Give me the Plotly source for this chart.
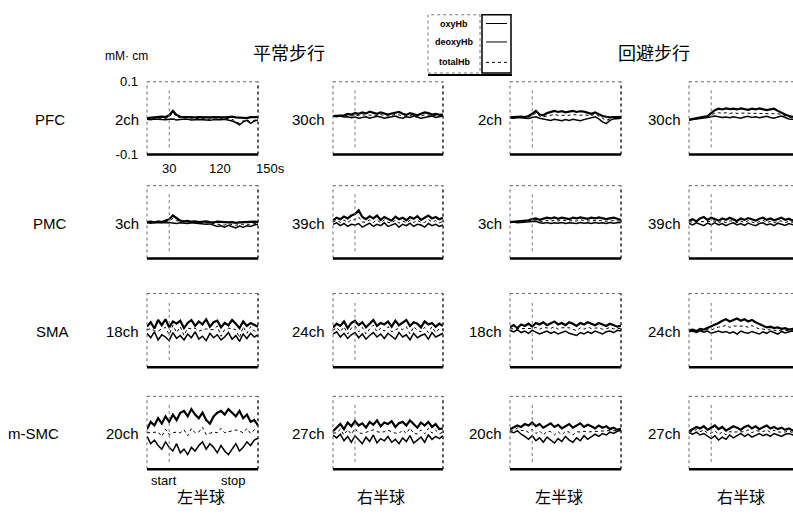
import plotly.graph_objects as go

W, H = 793, 517

# time axis (s)
t = [0, 5, 10, 15, 20, 25, 30, 35, 40, 45, 50, 55, 60, 65, 70, 75,
     80, 85, 90, 95, 100, 105, 110, 115, 120, 125, 130, 135, 140, 145, 150]

row_names = ["PFC", "PMC", "SMA", "m-SMC"]
channels = [["2ch", "30ch", "2ch", "30ch"],
            ["3ch", "39ch", "3ch", "39ch"],
            ["18ch", "24ch", "18ch", "24ch"],
            ["20ch", "27ch", "20ch", "27ch"]]
condition_titles = ["平常步行", "回避步行"]
hemisphere_labels = ["左半球", "右半球", "左半球", "右半球"]
series_names = ["oxyHb", "deoxyHb", "totalHb"]
x_tick_vals = [30, 120, 150]
x_tick_text = ["30", "120", "150s"]
x_tick_shift = [0, -16, 12]
y_tick_vals = [-0.1, 0.1]
y_tick_text = ["-0.1", "0.1"]

# values in 10^-3 mM·cm
oxy_r1c1 = [0,1,3,2,4,3,8,20,9,4,3,4,3,2,3,2,1,2,3,2,1,2,3,4,2,1,2,0,3,2,3]
deoxy_r1c1 = [-3,-4,-2,-3,-2,-4,-3,-2,-5,-3,-2,-3,-5,-4,-3,-4,-5,-6,-4,-5,-4,-3,-5,-8,-12,-18,-10,-6,-14,-8,-5]
total_r1c1 = [-1,-2,1,-1,1,-1,3,16,4,1,1,1,-1,-1,0,-1,-3,-2,-1,-2,-2,-1,-1,-3,-8,-15,-7,-5,-10,-5,-2]

oxy_r1c2 = [6,7,9,8,12,10,14,12,16,13,18,15,12,16,14,10,13,15,17,12,9,14,12,8,12,16,14,10,12,9,10]
deoxy_r1c2 = [5,4,6,3,4,1,3,0,2,4,0,2,5,3,0,2,4,6,2,0,4,2,6,4,0,2,4,6,2,4,6]
total_r1c2 = [6,5,8,6,8,6,8,7,9,8,9,8,8,10,7,6,8,10,9,6,6,8,9,6,6,9,9,8,7,6,8]

oxy_r1c3 = [2,3,2,4,3,6,12,20,10,8,14,18,20,17,19,16,18,20,17,19,18,15,12,16,10,6,4,2,3,2,3]
deoxy_r1c3 = [1,0,2,1,0,-1,2,4,0,-2,-4,-6,-3,-5,-7,-4,-6,-3,-5,-7,-4,-2,0,4,-2,-10,-15,-6,-2,-1,0]
total_r1c3 = [2,2,2,3,2,3,8,14,6,4,6,8,10,8,8,7,8,10,8,8,9,8,7,12,6,-2,-6,-2,1,1,2]

oxy_r1c4 = [-4,-2,0,2,4,6,14,22,26,24,27,25,26,24,27,25,23,26,24,27,25,22,24,26,20,14,10,6,4,2,0]
deoxy_r1c4 = [-5,-4,-3,-2,0,2,4,6,4,2,3,1,4,2,0,3,5,2,4,1,3,5,2,0,3,6,2,-2,-3,-2,-1]
total_r1c4 = [-5,-3,-2,0,2,4,9,14,15,13,15,13,15,13,14,14,14,14,14,14,14,13,13,13,12,10,6,2,0,0,-1]

oxy_r2c1 = [0,1,-1,2,0,3,8,18,10,4,2,3,1,2,0,1,2,0,-1,1,0,-2,-1,0,-2,-1,0,-1,0,1,0]
deoxy_r2c1 = [-2,-3,-1,-2,-3,-2,-1,-3,-4,-2,-3,-4,-2,-3,-5,-4,-6,-5,-8,-12,-10,-14,-9,-13,-16,-11,-14,-10,-12,-8,-6]
total_r2c1 = [-1,-1,-1,0,-1,1,4,10,4,1,0,0,-1,-1,-3,-2,-2,-3,-5,-6,-5,-8,-5,-7,-9,-6,-7,-6,-6,-4,-3]

oxy_r2c2 = [5,12,8,15,10,18,22,32,14,8,16,10,18,6,14,10,4,15,8,12,5,14,9,16,6,12,18,10,14,8,12]
deoxy_r2c2 = [-6,-2,-10,-4,-12,-6,-8,-4,-14,-8,-3,-12,-6,-10,-2,-12,-8,-4,-14,-6,-10,-3,-12,-6,-8,-14,-4,-10,-6,-12,-8]
total_r2c2 = [0,5,-1,6,-1,6,7,14,0,0,6,-1,6,-2,6,-1,-2,5,-3,3,-2,5,-1,5,-1,-1,7,0,4,-2,2]

oxy_r2c3 = [0,1,0,2,3,5,8,10,6,8,12,10,13,9,12,10,8,12,10,13,11,9,12,10,13,11,8,10,12,9,6]
deoxy_r2c3 = [-1,0,-2,-1,0,-1,0,2,-2,-3,-1,-4,-2,-3,-1,-4,-2,-3,-4,-1,-3,-2,-4,-1,-3,-2,-4,-1,-3,-2,-1]
total_r2c3 = [-1,0,-1,0,1,2,4,6,2,2,5,3,5,3,5,3,3,4,3,6,4,3,4,4,5,4,2,4,4,3,2]

oxy_r2c4 = [4,8,2,10,14,6,12,8,4,10,6,12,8,3,10,6,11,7,4,9,12,6,10,5,8,12,6,9,4,8,6]
deoxy_r2c4 = [-4,-8,-2,-6,-10,-3,-7,-2,-8,-4,-10,-5,-2,-8,-4,-9,-3,-7,-10,-4,-2,-8,-5,-10,-3,-6,-9,-4,-7,-3,-5]
total_r2c4 = [0,0,0,2,2,1,2,3,-2,3,-2,3,3,-2,3,-1,4,0,-3,2,5,-1,2,-2,2,3,-1,2,-1,2,0]

oxy_r3c1 = [10,22,5,28,14,30,8,24,18,26,6,20,28,12,24,16,30,10,22,26,8,20,14,28,18,6,24,12,20,16,10]
deoxy_r3c1 = [-8,-20,-4,-26,-12,-18,-28,-6,-22,-14,-26,-10,-20,-4,-24,-16,-28,-8,-20,-12,-26,-18,-6,-24,-14,-30,-10,-22,-8,-18,-12]
total_r3c1 = [2,4,-1,-2,4,8,-12,14,-6,10,-14,6,4,6,-2,0,4,2,2,12,-16,2,6,4,2,-20,10,-8,10,-2,-2]

oxy_r3c2 = [8,18,12,24,6,20,26,14,22,8,18,28,12,20,16,24,10,26,14,20,28,12,22,18,8,24,16,20,10,18,12]
deoxy_r3c2 = [-10,-4,-18,-8,-22,-12,-6,-20,-10,-24,-14,-6,-18,-10,-22,-8,-16,-24,-6,-18,-12,-26,-8,-20,-14,-10,-24,-6,-18,-12,-8]
total_r3c2 = [0,8,-4,10,-10,6,12,-4,8,-10,4,14,-4,6,-2,10,-4,2,6,2,10,-10,10,0,-4,8,-6,10,-6,4,2]

oxy_r3c3 = [8,14,6,16,12,18,10,20,16,22,14,18,24,16,20,14,22,18,12,20,16,22,18,14,20,16,12,18,14,10,12]
deoxy_r3c3 = [0,-4,2,-6,-2,-8,0,-4,-10,-6,-2,-8,-4,-10,-6,-2,-8,-12,-14,-6,-10,-4,-8,-2,-6,-10,-4,-2,-6,0,-2]
total_r3c3 = [4,5,4,5,5,5,5,8,3,8,6,5,10,3,7,6,7,3,-1,7,3,9,5,6,7,3,4,8,4,5,5]

oxy_r3c4 = [0,2,-2,4,2,6,10,14,20,26,30,24,28,32,26,30,24,28,22,18,12,8,10,6,8,4,6,2,4,0,2]
deoxy_r3c4 = [-4,-2,-6,-1,-5,-2,-8,-4,-2,-6,-3,-8,-4,-10,-2,-6,-8,-3,-6,-10,-4,-8,-2,-6,-10,-3,-7,-4,-2,-6,-3]
total_r3c4 = [-2,0,-4,2,-2,2,1,5,9,10,14,8,12,11,12,12,8,13,8,4,4,0,4,0,-1,1,0,-1,1,-3,0]

oxy_r4c1 = [10,30,20,40,25,45,30,50,35,55,60,45,65,50,40,55,35,25,45,55,60,50,65,55,45,60,40,50,30,35,20]
deoxy_r4c1 = [-10,-30,-20,-35,-45,-25,-40,-50,-30,-55,-45,-60,-40,-50,-35,-25,-45,-30,-40,-55,-35,-50,-60,-45,-30,-50,-40,-25,-35,-20,-15]
total_r4c1 = [0,0,0,2,-10,10,-5,0,2,0,8,-8,12,0,2,15,-5,-2,2,0,12,0,2,5,8,5,0,12,-2,8,2]

oxy_r4c2 = [4,14,24,10,28,18,32,20,26,14,30,22,34,18,28,24,32,16,26,30,20,34,24,14,28,20,30,16,24,10,12]
deoxy_r4c2 = [-6,-14,-4,-22,-10,-26,-8,-20,-30,-12,-24,-6,-28,-16,-22,-10,-26,-18,-30,-14,-24,-8,-28,-20,-12,-26,-6,-18,-10,-16,-8]
total_r4c2 = [-1,0,10,-6,9,-4,12,0,-2,1,3,8,3,1,3,7,3,-1,-2,8,-2,13,-2,-3,8,-3,12,-1,7,-3,2]

oxy_r4c3 = [10,14,20,16,24,20,28,18,24,14,20,26,16,22,12,18,24,14,20,26,16,22,18,12,20,14,18,10,14,8,12]
deoxy_r4c3 = [4,0,6,-4,-10,-18,-8,-22,-14,-26,-12,-20,-28,-16,-24,-10,-20,-26,-14,-22,-8,-18,-12,-4,-10,-2,-6,2,-2,4,6]
total_r4c3 = [7,7,13,6,7,1,10,-2,5,-6,4,3,-6,3,-6,4,2,-6,3,2,4,2,3,4,5,6,6,6,6,6,9]

oxy_r4c4 = [4,10,16,12,18,8,14,20,10,16,6,12,18,14,8,16,20,12,18,10,14,20,12,16,10,14,8,12,6,10,8]
deoxy_r4c4 = [0,-4,2,-6,-2,-10,-16,-8,-20,-12,-18,-6,-14,-8,-2,-10,-4,-12,-6,-2,-8,-4,-10,-2,-6,-10,-4,-2,-6,0,-2]
total_r4c4 = [2,3,9,3,8,-1,-1,6,-5,2,-6,3,2,3,3,3,8,0,6,4,3,8,1,7,2,2,2,5,0,5,3]

panels = [
    [(oxy_r1c1, deoxy_r1c1, total_r1c1), (oxy_r1c2, deoxy_r1c2, total_r1c2),
     (oxy_r1c3, deoxy_r1c3, total_r1c3), (oxy_r1c4, deoxy_r1c4, total_r1c4)],
    [(oxy_r2c1, deoxy_r2c1, total_r2c1), (oxy_r2c2, deoxy_r2c2, total_r2c2),
     (oxy_r2c3, deoxy_r2c3, total_r2c3), (oxy_r2c4, deoxy_r2c4, total_r2c4)],
    [(oxy_r3c1, deoxy_r3c1, total_r3c1), (oxy_r3c2, deoxy_r3c2, total_r3c2),
     (oxy_r3c3, deoxy_r3c3, total_r3c3), (oxy_r3c4, deoxy_r3c4, total_r3c4)],
    [(oxy_r4c1, deoxy_r4c1, total_r4c1), (oxy_r4c2, deoxy_r4c2, total_r4c2),
     (oxy_r4c3, deoxy_r4c3, total_r4c3), (oxy_r4c4, deoxy_r4c4, total_r4c4)],
]

# layout geometry (pixels)
col_px = [(147, 258), (333, 443), (510, 621), (689, 793)]
row_px = [(77, 152), (184, 259), (295, 371), (401, 476)]
full_w = 111.0

def px(x):
    return x / W

def py(y):
    return 1 - y / H

FONT = "Liberation Sans, Arial, sans-serif"
CJK = "Noto Sans CJK SC, sans-serif"

line_styles = [dict(color="black", width=2.2),
               dict(color="black", width=1.5),
               dict(color="black", width=1.0, dash="dot")]

fig = go.Figure()
shapes = []
annotations = []
layout_axes = {}

for r in range(4):
    for c in range(4):
        n = r * 4 + c + 1
        sfx = "" if n == 1 else str(n)
        xa, ya = "x" + sfx, "y" + sfx
        x0p, x1p = col_px[c]
        y0p, y1p = row_px[r]
        xmax = 150 * (x1p - x0p) / full_w if c == 3 else 150
        first = (r == 0 and c == 0)
        layout_axes["xaxis" + sfx] = dict(
            domain=[px(x0p), px(x1p)], range=[0, xmax], anchor=ya,
            showgrid=False, zeroline=False, showline=False,
            showticklabels=False, ticks="", fixedrange=True,
        )
        layout_axes["yaxis" + sfx] = dict(
            domain=[py(y1p), py(y0p)], range=[-0.1, 0.1], anchor=xa,
            showgrid=False, zeroline=False, showline=False,
            showticklabels=first, ticks="", fixedrange=True,
            tickvals=y_tick_vals if first else None,
            ticktext=y_tick_text if first else None,
            tickfont=dict(family=FONT, size=13, color="black"),
            ticklabelstandoff=8 if first else None,
        )
        # start marker line
        shapes.append(dict(type="line", xref=xa, yref=ya + " domain",
                           x0=30, x1=30, y0=0.1, y1=0.9,
                           line=dict(color="#777", width=1, dash="dot")))
        for k, series in enumerate(panels[r][c]):
            fig.add_trace(go.Scatter(
                x=t, y=[v / 1000 for v in series], xaxis=xa, yaxis=ya,
                mode="lines", line=line_styles[k], name=series_names[k],
                showlegend=False, hoverinfo="skip"))
        # frame: dotted top/left, heavy bottom, dotted right
        xd, yd = xa + " domain", ya + " domain"
        shapes.append(dict(type="line", xref=xd, yref=yd, x0=0, x1=1, y0=1, y1=1,
                           line=dict(color="#666", width=1, dash="dot")))
        shapes.append(dict(type="line", xref=xd, yref=yd, x0=0, x1=0, y0=0, y1=1,
                           line=dict(color="#666", width=1, dash="dot")))
        shapes.append(dict(type="line", xref=xd, yref=yd, x0=0, x1=1, y0=0, y1=0,
                           line=dict(color="black", width=2.5)))
        if c != 3:
            shapes.append(dict(type="line", xref=xd, yref=yd, x0=1, x1=1, y0=0, y1=1,
                               line=dict(color="#222", width=1.5, dash="dot")))
        # channel label
        annotations.append(dict(text=channels[r][c], xref="paper", yref="paper",
                                x=px(x0p - 6), y=py((y0p + y1p) / 2 + 1),
                                xanchor="right", yanchor="middle", showarrow=False,
                                font=dict(family=FONT, size=15, color="black")))

# x tick labels of the first panel (time in s)
for v, txt, sh in zip(x_tick_vals, x_tick_text, x_tick_shift):
    annotations.append(dict(text=txt, xref="x", yref="paper", x=v, y=py(166),
                            xshift=sh, xanchor="center", yanchor="middle",
                            showarrow=False,
                            font=dict(family=FONT, size=13, color="black")))

# row labels
row_label_x = [50, 50, 52, 33]
for r in range(4):
    y0p, y1p = row_px[r]
    annotations.append(dict(text=row_names[r], xref="paper", yref="paper",
                            x=px(row_label_x[r]), y=py((y0p + y1p) / 2 + 1),
                            xanchor="center", yanchor="middle", showarrow=False,
                            font=dict(family=FONT, size=15, color="black")))

# titles
for txt, cx in zip(condition_titles, [289, 654]):
    annotations.append(dict(text=txt, xref="paper", yref="paper",
                            x=px(cx), y=py(46), xanchor="center", yanchor="middle",
                            showarrow=False, font=dict(family=CJK, size=18, color="black")))

# hemisphere labels
for txt, cx in zip(hemisphere_labels, [201, 381, 559, 741]):
    annotations.append(dict(text=txt, xref="paper", yref="paper",
                            x=px(cx), y=py(504), xanchor="center", yanchor="middle",
                            showarrow=False, font=dict(family=CJK, size=16, color="black")))

# start / stop
for txt, cx in [("start", 164), ("stop", 233)]:
    annotations.append(dict(text=txt, xref="paper", yref="paper",
                            x=px(cx), y=py(488), xanchor="center", yanchor="middle",
                            showarrow=False, font=dict(family=FONT, size=13, color="black")))

# unit
annotations.append(dict(text="mM· cm", xref="paper", yref="paper",
                        x=px(126), y=py(50), xanchor="center", yanchor="middle",
                        showarrow=False, font=dict(family=FONT, size=12, color="black")))

# custom legend
lx0, lx1, ly0, ly1 = 428, 480, 8, 68
shapes.append(dict(type="rect", xref="paper", yref="paper",
                   x0=px(lx0), x1=px(lx1), y0=py(ly1), y1=py(ly0),
                   line=dict(color="#777", width=1, dash="dot")))
shapes.append(dict(type="rect", xref="paper", yref="paper",
                   x0=px(482), x1=px(511), y0=py(ly1), y1=py(ly0),
                   line=dict(color="black", width=1.5)))
shapes.append(dict(type="line", xref="paper", yref="paper",
                   x0=px(428), x1=px(512), y0=py(70), y1=py(70),
                   line=dict(color="black", width=2)))
leg_y = [17, 36, 57]
for k, name in enumerate(series_names):
    annotations.append(dict(text="<b>" + name + "</b>", xref="paper", yref="paper",
                            x=px(454), y=py(leg_y[k]), xanchor="center", yanchor="middle",
                            showarrow=False, font=dict(family=FONT, size=9, color="black")))
    st = dict(line_styles[k])
    st["width"] = 1
    shapes.append(dict(type="line", xref="paper", yref="paper",
                       x0=px(486), x1=px(507), y0=py(leg_y[k]), y1=py(leg_y[k]),
                       line=st))

fig.update_layout(
    width=W, height=H, margin=dict(l=0, r=0, t=0, b=0),
    paper_bgcolor="white", plot_bgcolor="white",
    showlegend=False, shapes=shapes, annotations=annotations,
    **layout_axes,
)

fig.write_html("out.html", config={"displayModeBar": False},
               post_script="document.body.style.margin='0';")
